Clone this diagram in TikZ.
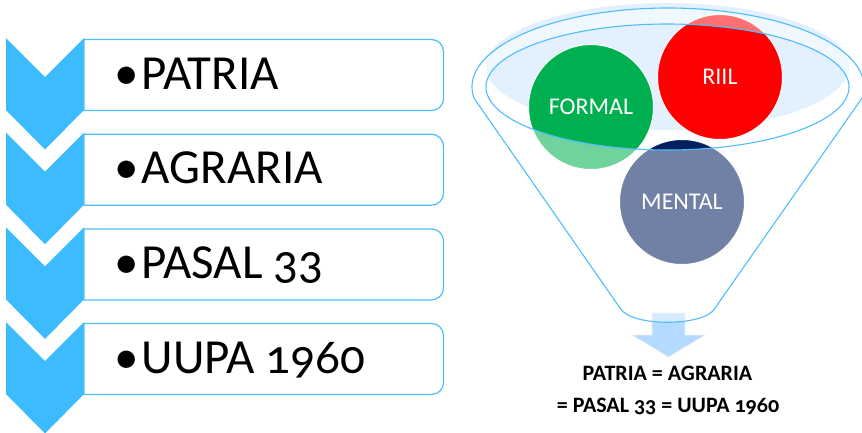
\documentclass[tikz,border=0pt]{standalone}
\usepackage{fontspec}
\setmainfont{Carlito}[Numbers=OldStyle]
\definecolor{skyb}{HTML}{3DBBFF}
\definecolor{skyl}{HTML}{4FBDFC}
\definecolor{rimfill}{HTML}{E3F1FF}
\definecolor{arrowb}{HTML}{B3DBFF}
\definecolor{mentalb}{HTML}{002060}
\definecolor{formalg}{HTML}{00B050}
\tikzset{
  chevron/.style={fill=skyb,draw=none},
  rowbox/.style={draw=skyl,line width=1.2pt,fill=white},
  rowtext/.style={anchor=base west,inner sep=0pt,font=\fontsize{49}{54}\selectfont,text=black},
  ball/.style={circle,minimum size=125pt,inner sep=0pt,draw=white,line width=1pt,text=white,font=\fontsize{24}{28}\selectfont},
  sumtext/.style={inner sep=0pt,font=\bfseries\fontsize{22}{26}\selectfont,text=black},
  funnelline/.style={draw=skyl,line width=1.1pt}
}
\begin{document}
\begin{tikzpicture}[x=1pt,y=-1pt]
\useasboundingbox (0,0) rectangle (862,432);
\fill[white] (0,0) rectangle (862,432);
% left rows
\foreach \t/\lab/\nm in {0/PATRIA/a,94.7/AGRARIA/b,189.4/PASAL 33/c,284/UUPA 1960/d}{
  \begin{scope}[yshift={-\t pt}]
    \fill[chevron] (6,38) -- (45,77) -- (84,38) -- (84,110) -- (45,149.5) -- (6,110) -- cycle;
    \path[rowbox] (84,39.5) [rounded corners=12pt] -- (443.5,39.5) -- (443.5,110.5) [sharp corners] -- (84,110.5) -- cycle;
    \node[rowtext] (row\nm) at (114.5,89) {•\hspace{2.5pt}\lab};
  \end{scope}
}
% funnel contents
\fill[rimfill] (667.5,66.5) ellipse [x radius=181.5pt,y radius=63.5pt];
\node[ball,fill=formalg] (formal) at (591,107) {FORMAL};
\node[ball,fill=red] (riil) at (720,77) {RIIL};
\node[ball,fill=mentalb] (mental) at (682,202) {MENTAL};
% arrow
\path[fill=arrowb,draw=white!94!black,line width=0.6pt] (652,313) -- (685,313) -- (685,335) -- (705,335) -- (668.5,357) -- (632,335) -- (652,335) -- cycle;
% funnel veil
\fill[white,opacity=.44,even odd rule]
  (473.9,98) arc[start angle=188,end angle=-8,x radius=196pt,y radius=79pt]
  -- (715,308) .. controls (705,327) and (630,327) .. (620,308) -- cycle
  (667.5,87) ellipse [x radius=181.5pt,y radius=63pt];
% funnel lines
\path[funnelline]
  (473.9,98) arc[start angle=188,end angle=-8,x radius=196pt,y radius=79pt]
  -- (715,308) .. controls (705,327) and (630,327) .. (620,308) -- cycle;
\path[funnelline] (667.5,87) ellipse [x radius=181.5pt,y radius=63pt];
% summary
\node[sumtext] (sumA) at (667.5,373) {PATRIA = AGRARIA};
\node[sumtext] (sumB) at (668,406) {= PASAL 33 = UUPA 1960};
\end{tikzpicture}
\end{document}
